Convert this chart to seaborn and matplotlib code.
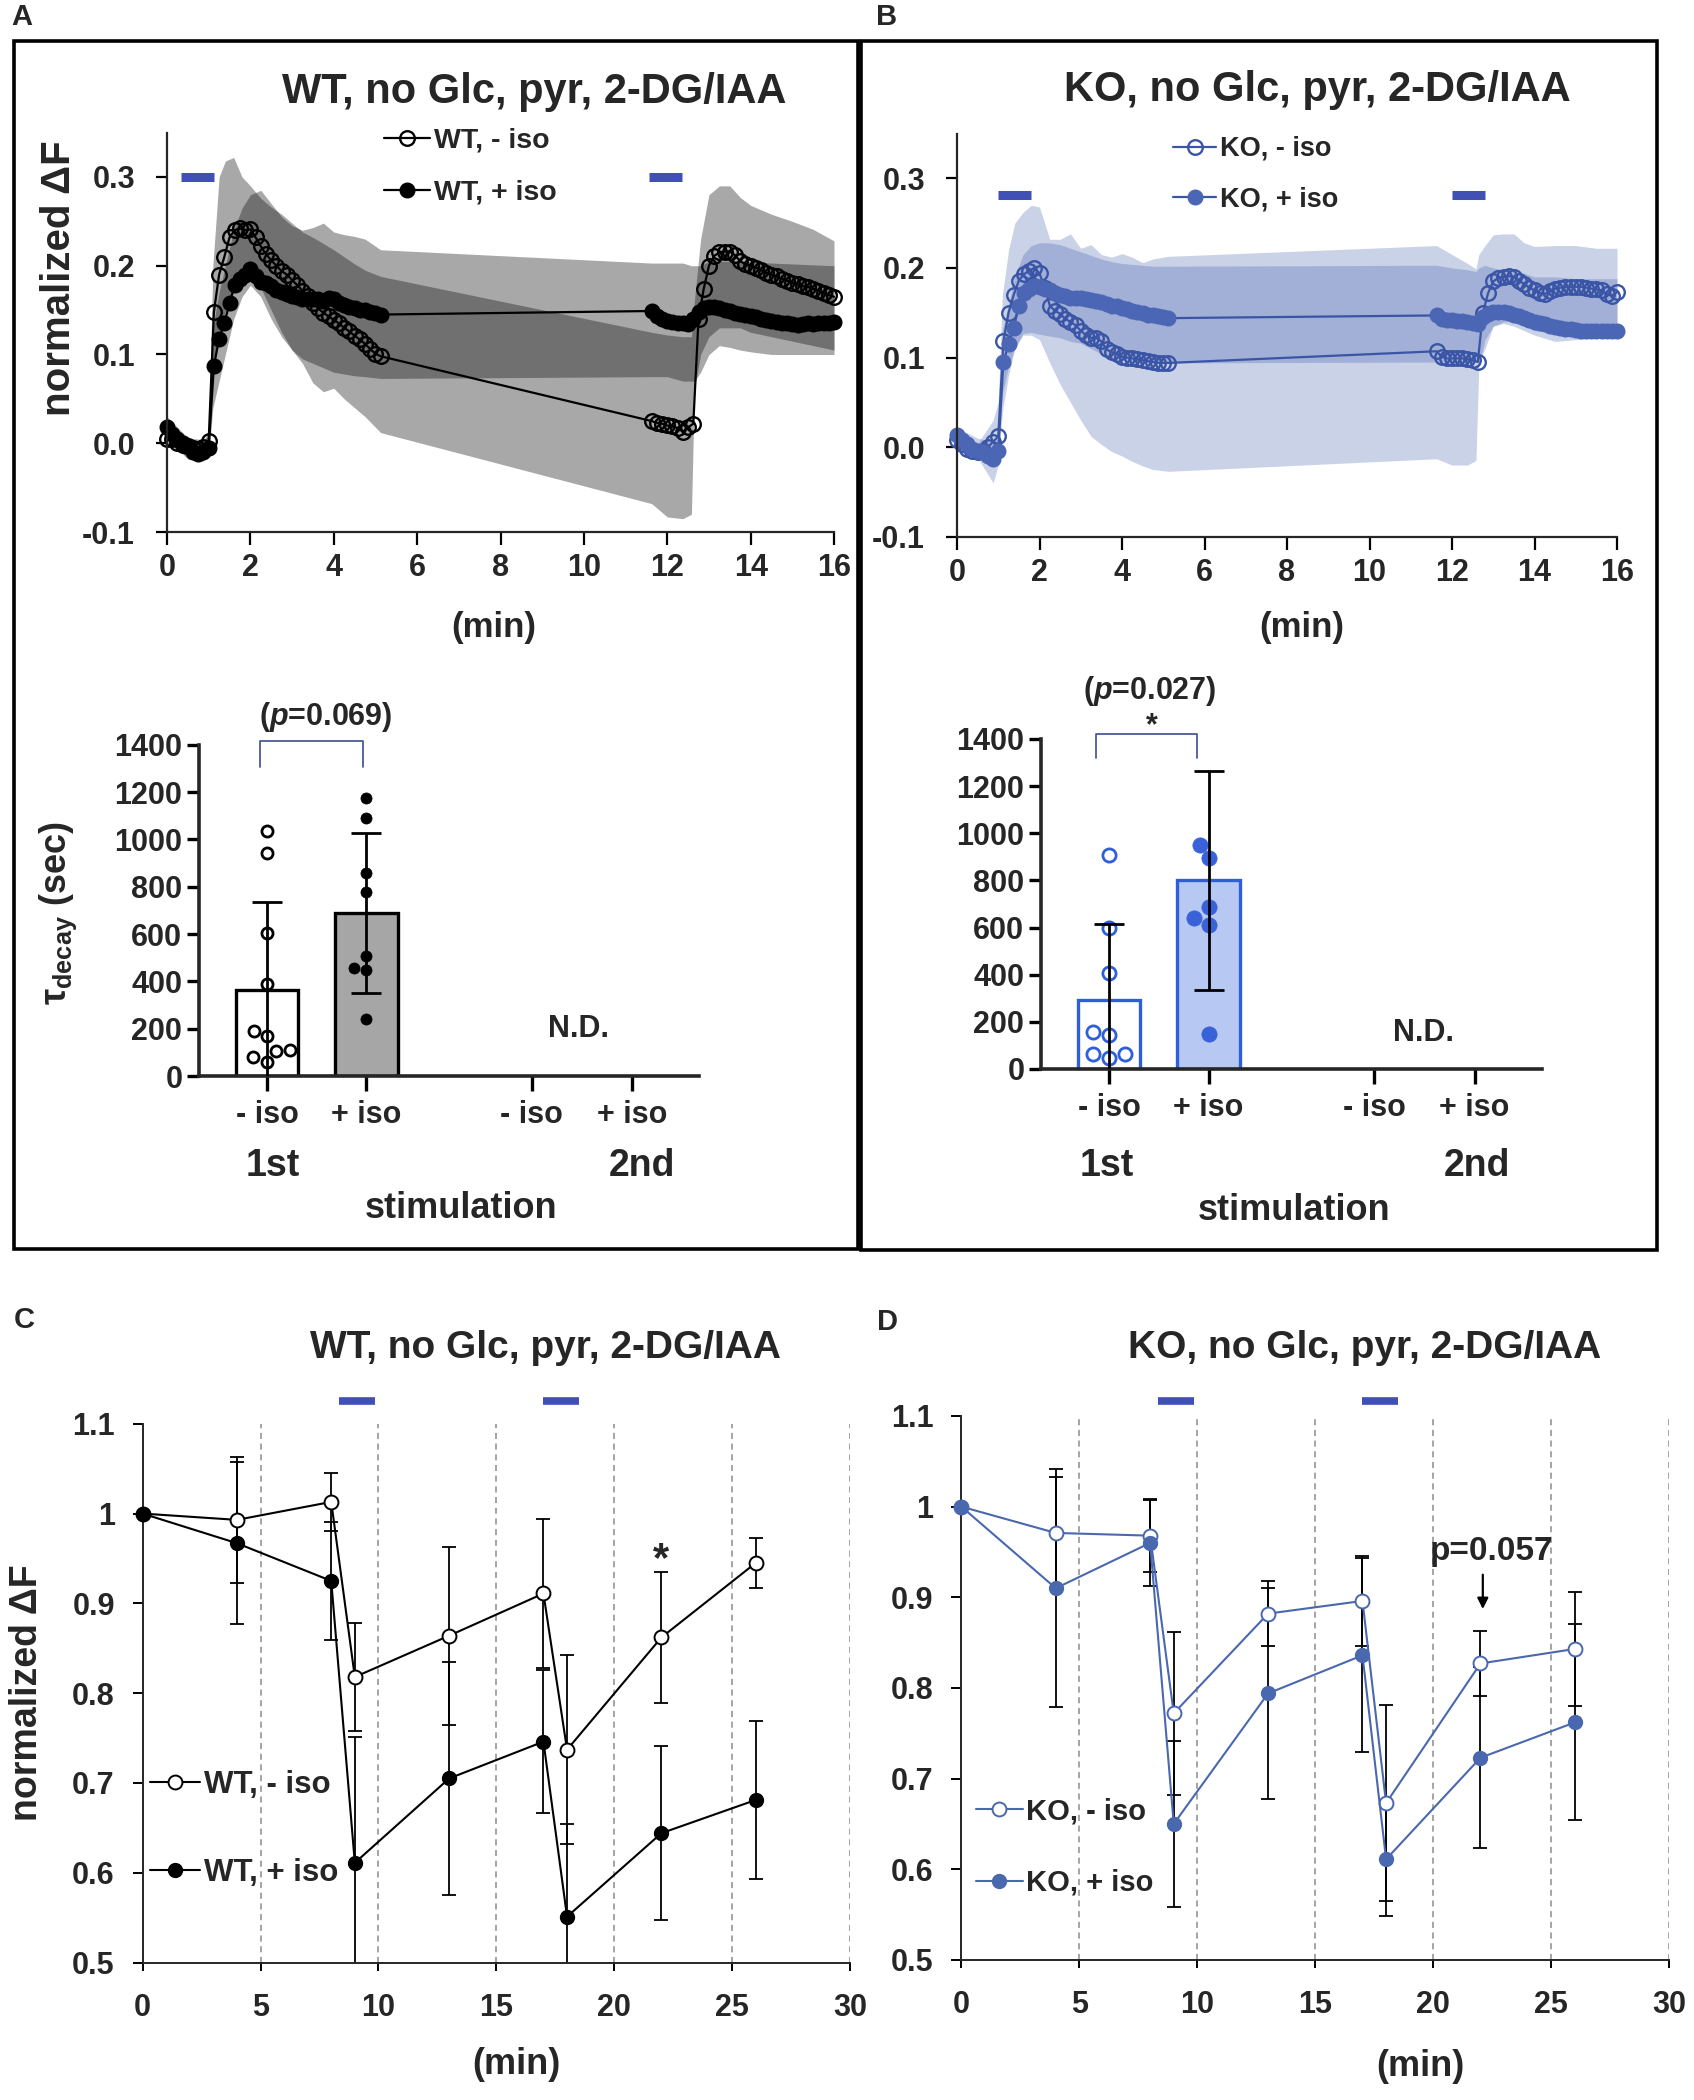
import matplotlib.pyplot as plt
import seaborn as sns
from matplotlib.patches import Rectangle

sns.set_theme(style="ticks")
SANS = ["Liberation Sans", "DejaVu Sans"]
plt.rcParams["font.family"] = SANS
plt.rcParams["font.weight"] = "bold"
plt.rcParams["mathtext.fontset"] = "custom"
plt.rcParams["mathtext.rm"] = "Liberation Sans:bold"
plt.rcParams["mathtext.bf"] = "Liberation Sans:bold"
plt.rcParams["mathtext.it"] = "Liberation Sans:italic:bold"

# ---------------- data: panels A / B (time course, min) ----------------
t_seg1 = [0.0, 0.125, 0.25, 0.375, 0.5, 0.625, 0.75, 0.875, 1.0, 1.125, 1.25, 1.375, 1.5, 1.625,
          1.75, 1.875, 2.0, 2.125, 2.25, 2.375, 2.5, 2.625, 2.75, 2.875, 3.0, 3.125, 3.25, 3.375,
          3.5, 3.625, 3.75, 3.875, 4.0, 4.125, 4.25, 4.375, 4.5, 4.625, 4.75, 4.875, 5.0, 5.125]
t_seg2 = [11.625, 11.75, 11.875, 12.0, 12.125, 12.25, 12.375, 12.5, 12.625, 12.75, 12.875, 13.0,
          13.125, 13.25, 13.375, 13.5, 13.625, 13.75, 13.875, 14.0, 14.125, 14.25, 14.375, 14.5,
          14.625, 14.75, 14.875, 15.0, 15.125, 15.25, 15.375, 15.5, 15.625, 15.75, 15.875, 16.0]

wt_noiso = [0.005, 0.005, 0.0, -0.002, -0.003, -0.005, -0.006, -0.004, 0.003, 0.148, 0.19, 0.21,
            0.232, 0.24, 0.242, 0.24, 0.241, 0.232, 0.222, 0.213, 0.206, 0.2, 0.194, 0.19, 0.184,
            0.178, 0.172, 0.166, 0.158, 0.152, 0.147, 0.143, 0.139, 0.135, 0.13, 0.126, 0.121,
            0.117, 0.112, 0.106, 0.101, 0.098,
            0.025, 0.023, 0.022, 0.02, 0.019, 0.017, 0.013, 0.018, 0.022, 0.14, 0.174, 0.2, 0.211,
            0.215, 0.216, 0.216, 0.212, 0.205, 0.202, 0.2, 0.198, 0.195, 0.192, 0.19, 0.188, 0.185,
            0.183, 0.181, 0.179, 0.177, 0.176, 0.174, 0.172, 0.169, 0.167, 0.165]
wt_iso = [0.018, 0.01, 0.005, 0.0, -0.004, -0.01, -0.012, -0.01, -0.005, 0.087, 0.118, 0.135,
          0.158, 0.178, 0.185, 0.19, 0.196, 0.188, 0.182, 0.18, 0.177, 0.173, 0.17, 0.168, 0.166,
          0.165, 0.163, 0.162, 0.163, 0.162, 0.16, 0.164, 0.162, 0.158, 0.156, 0.153, 0.152, 0.15,
          0.15, 0.148, 0.147, 0.145,
          0.149, 0.143, 0.14, 0.138, 0.137, 0.136, 0.135, 0.134, 0.14, 0.148, 0.152, 0.154, 0.153,
          0.152, 0.15, 0.149, 0.147, 0.146, 0.144, 0.143, 0.142, 0.14, 0.139, 0.138, 0.137, 0.136,
          0.135, 0.134, 0.133, 0.134, 0.135, 0.134, 0.135, 0.136, 0.136, 0.137]
ko_noiso = [0.008, 0.004, -0.002, -0.004, -0.005, -0.004, 0.0, 0.006, 0.012, 0.118, 0.15, 0.17,
            0.186, 0.193, 0.197, 0.2, 0.194, 0.178, 0.158, 0.152, 0.149, 0.143, 0.14, 0.136, 0.13,
            0.125, 0.122, 0.122, 0.118, 0.109, 0.106, 0.104, 0.101, 0.1, 0.099, 0.098, 0.097,
            0.096, 0.095, 0.094, 0.094, 0.094,
            0.107, 0.101, 0.099, 0.099, 0.099, 0.099, 0.098, 0.097, 0.095, 0.15, 0.172, 0.185,
            0.189, 0.19, 0.191, 0.19, 0.186, 0.182, 0.178, 0.175, 0.172, 0.171, 0.174, 0.177,
            0.178, 0.179, 0.179, 0.179, 0.179, 0.178, 0.177, 0.176, 0.175, 0.171, 0.169, 0.173]
ko_iso = [0.014, 0.008, 0.003, -0.002, -0.004, -0.006, -0.01, -0.013, -0.004, 0.095, 0.115, 0.133,
          0.158, 0.172, 0.177, 0.18, 0.179, 0.177, 0.175, 0.172, 0.17, 0.169, 0.167, 0.166, 0.166,
          0.165, 0.164, 0.163, 0.162, 0.16, 0.158, 0.157, 0.155, 0.154, 0.152, 0.151, 0.15, 0.148,
          0.147, 0.146, 0.145, 0.144,
          0.147, 0.143, 0.142, 0.142, 0.141, 0.141, 0.14, 0.139, 0.138, 0.145, 0.149, 0.151, 0.151,
          0.151, 0.15, 0.148, 0.146, 0.144, 0.142, 0.14, 0.139, 0.137, 0.135, 0.134, 0.133, 0.132,
          0.132, 0.131, 0.13, 0.13, 0.13, 0.13, 0.13, 0.13, 0.13, 0.13]

# SD bands (coarser time grid)
t_band = [0.0, 0.5, 0.875, 1.0, 1.1, 1.25, 1.4, 1.6, 1.8, 2.0, 2.25, 2.5, 2.75, 3.0, 3.25, 3.5,
          3.75, 4.0, 4.25, 4.5, 4.75, 5.125,
          11.625, 12.0, 12.375, 12.58, 12.65, 12.8, 13.0, 13.25, 13.5, 13.75, 14.0, 14.5, 15.0,
          15.5, 16.0]
wt_noiso_lo = [-0.003, -0.01, -0.012, -0.008, 0.09, 0.12, 0.15, 0.17, 0.185, 0.19, 0.175, 0.15,
               0.125, 0.105, 0.09, 0.068, 0.058, 0.062, 0.05, 0.04, 0.03, 0.012,
               -0.068, -0.083, -0.085, -0.08, 0.06, 0.1, 0.12, 0.13, 0.13, 0.13, 0.125, 0.12,
               0.115, 0.11, 0.105]
wt_noiso_hi = [0.014, 0.004, 0.002, 0.014, 0.2, 0.3, 0.318, 0.322, 0.3, 0.29, 0.276, 0.266, 0.258,
               0.248, 0.238, 0.232, 0.225, 0.218, 0.21, 0.202, 0.195, 0.188,
               0.125, 0.122, 0.12, 0.12, 0.16, 0.23, 0.28, 0.29, 0.29, 0.277, 0.268, 0.258, 0.25,
               0.241, 0.228]
wt_iso_lo = [0.005, -0.018, -0.02, -0.015, 0.04, 0.07, 0.1, 0.14, 0.165, 0.178, 0.165, 0.14, 0.12,
             0.105, 0.095, 0.09, 0.085, 0.08, 0.078, 0.076, 0.075, 0.073,
             0.075, 0.075, 0.07, 0.07, 0.07, 0.08, 0.1, 0.11, 0.108, 0.105, 0.103, 0.1, 0.1, 0.1,
             0.1]
wt_iso_hi = [0.03, 0.006, 0.004, 0.008, 0.13, 0.17, 0.2, 0.24, 0.265, 0.28, 0.285, 0.27, 0.255,
             0.245, 0.24, 0.243, 0.248, 0.238, 0.235, 0.233, 0.23, 0.218,
             0.203, 0.203, 0.203, 0.2, 0.2, 0.2, 0.205, 0.205, 0.205, 0.205, 0.204, 0.203, 0.202,
             0.201, 0.2]
ko_noiso_lo = [-0.005, -0.012, -0.04, -0.02, 0.04, 0.08, 0.11, 0.125, 0.125, 0.12, 0.094, 0.07,
               0.05, 0.03, 0.012, 0.003, -0.005, -0.01, -0.016, -0.021, -0.025, -0.027,
               -0.013, -0.02, -0.02, -0.015, 0.09, 0.12, 0.135, 0.14, 0.14, 0.135, 0.13, 0.128,
               0.13, 0.128, 0.125]
ko_noiso_hi = [0.012, 0.004, 0.03, 0.05, 0.17, 0.22, 0.25, 0.262, 0.27, 0.268, 0.232, 0.232,
               0.238, 0.222, 0.226, 0.215, 0.212, 0.216, 0.212, 0.206, 0.21, 0.213,
               0.225, 0.215, 0.205, 0.199, 0.215, 0.225, 0.237, 0.238, 0.238, 0.228, 0.224, 0.225,
               0.225, 0.222, 0.222]
ko_iso_lo = [0.005, -0.012, -0.02, -0.012, 0.06, 0.09, 0.11, 0.127, 0.128, 0.126, 0.124, 0.122,
             0.118, 0.116, 0.11, 0.104, 0.099, 0.097, 0.096, 0.095, 0.094, 0.094,
             0.095, 0.095, 0.095, 0.095, 0.095, 0.11, 0.135, 0.138, 0.135, 0.13, 0.125, 0.118,
             0.12, 0.122, 0.123]
ko_iso_hi = [0.022, 0.01, 0.006, 0.01, 0.13, 0.16, 0.19, 0.215, 0.225, 0.228, 0.228, 0.226, 0.222,
             0.218, 0.214, 0.21, 0.207, 0.205, 0.204, 0.203, 0.202, 0.202,
             0.203, 0.2, 0.198, 0.196, 0.2, 0.203, 0.2, 0.198, 0.196, 0.194, 0.19, 0.19, 0.188,
             0.188, 0.188]

wt_stim_start, wt_stim_end, wt_stim_y = [0.34, 11.56], [1.13, 12.35], 0.3
ko_stim_start, ko_stim_end, ko_stim_y = [1.0, 12.0], [1.79, 12.79], 0.282
trace_yticks = [-0.1, 0.0, 0.1, 0.2, 0.3]
trace_yticklabels = ["-0.1", "0.0", "0.1", "0.2", "0.3"]
trace_xticks = [0, 2, 4, 6, 8, 10, 12, 14, 16]

# ---------------- data: tau decay bars ----------------
bar_pos = [0, 1]
bar_ticks = [0, 1, 2.66, 3.67]
bar_ticklabels = ["- iso", "+ iso", "- iso", "+ iso"]
wt_tau_mean = [364, 690]
wt_tau_sd = [371, 338]
wt_tau_noiso = [1036, 941, 606, 389, 167, 192, 110, 80, 106, 59]
wt_tau_iso = [1175, 1091, 857, 778, 506, 456, 447, 242]
ko_tau_mean = [293, 800]
ko_tau_sd = [322, 463]
ko_tau_noiso = [909, 598, 407, 159, 146, 45, 64, 62]
ko_tau_iso = [951, 894, 640, 686, 609, 148]
tau_yticks = [0, 200, 400, 600, 800, 1000, 1200, 1400]

# ---------------- data: panels C / D ----------------
t_cd = [0, 4, 8, 9, 13, 17, 18, 22, 26]
c_noiso = [1.0, 0.993, 1.013, 0.818, 0.864, 0.911, 0.737, 0.862, 0.945]
c_noiso_sd = [0, 0.07, 0.032, 0.06, 0.099, 0.083, 0.105, 0.073, 0.028]
c_iso = [1.0, 0.967, 0.925, 0.611, 0.705, 0.746, 0.551, 0.644, 0.681]
c_iso_sd = [0, 0.09, 0.066, 0.14, 0.13, 0.08, 0.103, 0.097, 0.088]
d_noiso = [1.0, 0.971, 0.968, 0.772, 0.882, 0.896, 0.673, 0.827, 0.843]
d_noiso_sd = [0, 0.062, 0.04, 0.09, 0.036, 0.05, 0.108, 0.036, 0.063]
d_iso = [1.0, 0.91, 0.96, 0.65, 0.794, 0.836, 0.611, 0.723, 0.762]
d_iso_sd = [0, 0.131, 0.047, 0.092, 0.116, 0.107, 0.063, 0.1, 0.108]
cd_stim_start, cd_stim_end = [8.35, 17.0], [9.85, 18.5]
cd_xticks = [0, 5, 10, 15, 20, 25, 30]
cd_yticks = [0.5, 0.6, 0.7, 0.8, 0.9, 1.0, 1.1]
cd_yticklabels = ["0.5", "0.6", "0.7", "0.8", "0.9", "1", "1.1"]

STIM = "#4050b5"
KO_LINE = "#3a55a6"
KO_FILL = "#4a66b4"
KO_BAND = "#3352a7"
KO_BAR = "#2f5fd8"

W, H = 1694, 2100
fig = plt.figure(figsize=(W / 100, H / 100), dpi=100)


def add_ax(x0, y0, x1, y1):
    ax = fig.add_axes([x0 / W, 1 - y1 / H, (x1 - x0) / W, (y1 - y0) / H])
    ax.set_facecolor("none")
    ax.spines["top"].set_visible(False)
    ax.spines["right"].set_visible(False)
    return ax


def put(x, y, s, size, **kw):
    kw.setdefault("ha", "center")
    kw.setdefault("va", "center")
    fig.text(x / W, 1 - y / H, s, fontsize=size, family=SANS, fontweight="bold", **kw)


def set_ticks(ax, xt, xl, yt, yl, size):
    ax.set_xticks(xt, xl, fontsize=size, fontweight="bold", family=SANS)
    ax.set_yticks(yt, yl, fontsize=size, fontweight="bold", family=SANS)


def trace_panel(ax, noiso, iso, bands, band_col, band_alpha, line_col, open_col, fill_col,
                labels, stim, legend_xy, legend_size):
    t_trace = t_seg1 + t_seg2
    ax.fill_between(t_band, bands[0], bands[1], color=band_col, alpha=band_alpha, lw=0)
    ax.fill_between(t_band, bands[2], bands[3], color=band_col, alpha=band_alpha, lw=0)
    sns.lineplot(x=t_trace, y=noiso, sort=False, estimator=None, ax=ax, color=line_col, lw=1.6,
                 marker="o", markersize=10.5, markerfacecolor="none", markeredgecolor=open_col,
                 markeredgewidth=1.7, label=labels[0], clip_on=False)
    sns.lineplot(x=t_trace, y=iso, sort=False, estimator=None, ax=ax, color=line_col, lw=1.6,
                 marker="o", markersize=10.5, markerfacecolor=fill_col, markeredgecolor=fill_col,
                 markeredgewidth=1.0, label=labels[1], clip_on=False)
    ax.hlines([stim[2]] * len(stim[0]), stim[0], stim[1], color=STIM, lw=6.5,
              capstyle="butt", clip_on=False)
    ax.set_xlim(0, 16)
    ax.set_ylim(-0.1, 0.35)
    set_ticks(ax, trace_xticks, [str(v) for v in trace_xticks], trace_yticks,
              trace_yticklabels, 22)
    ax.spines["left"].set_linewidth(1.6)
    ax.spines["bottom"].set_linewidth(1.6)
    ax.tick_params(axis="y", length=8, width=1.6, pad=15, color="black")
    ax.tick_params(axis="x", length=9, width=1.6, pad=6, color="black")
    ax.set_xlabel("")
    ax.set_ylabel("")
    ax.legend(loc="upper left", bbox_to_anchor=(legend_xy[0] / W, 1 - legend_xy[1] / H),
              bbox_transform=fig.transFigure, frameon=False, borderpad=0, borderaxespad=0,
              handlelength=1.6, handletextpad=0.15, labelspacing=0.9,
              prop=dict(family=SANS, weight="bold", size=legend_size))


def bar_panel(ax, means, sds, dots_no, dots_iso, fills, edge, no_edge, iso_fill, sizes):
    sns.barplot(x=bar_pos, y=means, native_scale=True, orient="x", width=0.63, errorbar=None,
                color="white", ax=ax, zorder=1)
    for patch, fc in zip(ax.patches, fills):
        patch.set_facecolor(fc)
        patch.set_edgecolor(edge)
        patch.set_linewidth(2.4)
    sns.swarmplot(x=[bar_pos[0]] * len(dots_no), y=dots_no, native_scale=True, orient="x",
                  size=sizes[0], color="white", edgecolor=no_edge, linewidth=2.0, ax=ax, zorder=3)
    sns.swarmplot(x=[bar_pos[1]] * len(dots_iso), y=dots_iso, native_scale=True, orient="x",
                  size=sizes[1], color=iso_fill, edgecolor=iso_fill, linewidth=0.5, ax=ax,
                  zorder=3)
    ax.errorbar(bar_pos, means, yerr=sds, fmt="none", ecolor="black", elinewidth=2,
                capsize=11, capthick=2, zorder=4)
    ax.set_xlim(-0.683, 4.342)
    ax.set_ylim(0, 1400)
    set_ticks(ax, bar_ticks, bar_ticklabels, tau_yticks, [str(v) for v in tau_yticks], 22)
    ax.spines["left"].set_linewidth(2.6)
    ax.spines["bottom"].set_linewidth(2.6)
    ax.tick_params(axis="y", length=9, width=2.4, pad=3, color="black")
    ax.tick_params(axis="x", length=11, width=2.4, pad=6, color="black")
    ax.set_xlabel("")
    ax.set_ylabel("")


def time_panel(ax, noiso, noiso_sd, iso, iso_sd, line_col, edge_col, fill_col, labels,
               stim_y, legend_xy, legend_space, legend_size):
    ax.grid(axis="x", color="#8c8c8c", ls=(0, (4, 3)), lw=1.1)
    ax.errorbar(t_cd, noiso, yerr=noiso_sd, fmt="none", ecolor="black", elinewidth=1.3,
                capsize=5, capthick=1.3, zorder=2)
    ax.errorbar(t_cd, iso, yerr=iso_sd, fmt="none", ecolor="black", elinewidth=1.3,
                capsize=5, capthick=1.3, zorder=2)
    sns.lineplot(x=t_cd, y=noiso, sort=False, estimator=None, ax=ax, color=line_col, lw=1.5,
                 marker="o", markersize=10, markerfacecolor="white", markeredgecolor=edge_col,
                 markeredgewidth=1.4, label=labels[0], zorder=3, clip_on=False)
    sns.lineplot(x=t_cd, y=iso, sort=False, estimator=None, ax=ax, color=line_col, lw=1.5,
                 marker="o", markersize=10, markerfacecolor=fill_col, markeredgecolor=fill_col,
                 markeredgewidth=1.0, label=labels[1], zorder=3, clip_on=False)
    ax.hlines([stim_y] * len(cd_stim_start), cd_stim_start, cd_stim_end, color=STIM, lw=5.5,
              capstyle="butt", clip_on=False)
    ax.set_xlim(0, 30)
    ax.set_ylim(0.5, 1.1)
    set_ticks(ax, cd_xticks, [str(v) for v in cd_xticks], cd_yticks, cd_yticklabels, 22)
    ax.spines["left"].set_linewidth(1.4)
    ax.spines["bottom"].set_linewidth(1.4)
    ax.tick_params(axis="y", length=7, width=1.4, pad=13, color="black")
    ax.tick_params(axis="x", length=6, width=1.4, pad=16, color="black")
    ax.set_xlabel("")
    ax.set_ylabel("")
    ax.legend(loc="upper left", bbox_to_anchor=(legend_xy[0] / W, 1 - legend_xy[1] / H),
              bbox_transform=fig.transFigure, frameon=False, borderpad=0, borderaxespad=0,
              handlelength=1.6, handletextpad=0.12, labelspacing=legend_space,
              prop=dict(family=SANS, weight="bold", size=legend_size))


# ---------------- panel boxes & letters ----------------
for x0, y0, x1, y1 in [(14, 41, 858, 1249), (861, 41, 1657, 1250)]:
    fig.add_artist(Rectangle((x0 / W, 1 - y1 / H), (x1 - x0) / W, (y1 - y0) / H,
                             transform=fig.transFigure, fill=False, lw=2.6, ec="black"))
put(22, 17, "A", 21)
put(887, 17, "B", 21)
put(24, 1320, "C", 21)
put(887, 1322, "D", 21)

# ---------------- A / B traces ----------------
axA = add_ax(167, 132.6, 834, 532)
trace_panel(axA, wt_noiso, wt_iso, [wt_noiso_lo, wt_noiso_hi, wt_iso_lo, wt_iso_hi],
            "#0f0f0f", 0.36, "black", "black", "black", ["WT, - iso", "WT, + iso"],
            [wt_stim_start, wt_stim_end, wt_stim_y], (384, 128), 20.5)
put(534, 92, "WT, no Glc, pyr, 2-DG/IAA", 30)
put(59, 278, "normalized \u0394F", 29, rotation=90)
put(494, 627, "(min)", 25)

axB = add_ax(957, 133.6, 1617, 536.7)
trace_panel(axB, ko_noiso, ko_iso, [ko_noiso_lo, ko_noiso_hi, ko_iso_lo, ko_iso_hi],
            KO_BAND, 0.26, KO_LINE, KO_LINE, KO_FILL, ["KO, - iso", "KO, + iso"],
            [ko_stim_start, ko_stim_end, ko_stim_y], (1173, 136), 19.5)
put(1317, 90, "KO, no Glc, pyr, 2-DG/IAA", 30)
put(1302, 627, "(min)", 25)

# ---------------- A / B tau bars ----------------
axAb = add_ax(199, 744.8, 699, 1076)
bar_panel(axAb, wt_tau_mean, wt_tau_sd, wt_tau_noiso, wt_tau_iso, ["white", "#a6a6a6"],
          "black", "black", "black", [8, 8])
axAb.plot([-0.065, -0.065, 0.965, 0.965], [1306, 1415, 1415, 1306], color="#4a5a9a", lw=1.3,
          clip_on=False)
put(326, 717, r"($\mathit{p}$=0.069)", 22)
put(579, 1029, "N.D.", 22)
put(273, 1166, "1st", 27)
put(642, 1166, "2nd", 27)
put(461, 1209, "stimulation", 26)
put(58, 913, r"τ$_{\mathbf{decay}}$ (sec)", 26, rotation=90)

axBb = add_ax(1041, 738.9, 1541.6, 1069)
bar_panel(axBb, ko_tau_mean, ko_tau_sd, ko_tau_noiso, ko_tau_iso, ["white", "#b7c8f3"],
          KO_BAR, KO_BAR, "#3a62d8", [9.5, 11])
axBb.plot([-0.135, -0.135, 0.88, 0.88], [1320, 1422, 1422, 1320], color="#4a5a9a", lw=1.3,
          clip_on=False)
put(1150, 691, r"($\mathit{p}$=0.027)", 22)
put(1152, 726, "*", 22)
put(1423, 1033, "N.D.", 22)
put(1107, 1166, "1st", 27)
put(1477, 1166, "2nd", 27)
put(1294, 1211, "stimulation", 26)

# ---------------- C / D ----------------
axC = add_ax(142.6, 1423.8, 850, 1962.5)
time_panel(axC, c_noiso, c_noiso_sd, c_iso, c_iso_sd, "black", "black", "black",
           ["WT, - iso", "WT, + iso"], 1.125, (150, 1770), 1.85, 22.5)
axC.text(22, 0.948, "*", ha="center", va="center", fontsize=30, fontweight="bold", family=SANS)
put(546, 1348, "WT, no Glc, pyr, 2-DG/IAA", 28)
put(27, 1693, "normalized \u0394F", 27, rotation=90)
put(516, 2064, "(min)", 26)

axD = add_ax(961.4, 1416, 1669.2, 1959.9)
time_panel(axD, d_noiso, d_noiso_sd, d_iso, d_iso_sd, "#4a68ad", "#4a68ad", "#4a68ad",
           ["KO, - iso", "KO, + iso"], 1.116, (976, 1797), 1.5, 21)
axD.text(22.48, 0.95, "p=0.057", ha="center", va="center", fontsize=24, fontweight="bold",
         family=SANS)
axD.annotate("", xy=(22.1, 0.884), xytext=(22.1, 0.928),
             arrowprops=dict(arrowstyle="-|>", color="black", lw=1.6, mutation_scale=16))
put(1365, 1348, "KO, no Glc, pyr, 2-DG/IAA", 28)
put(1420, 2067, "(min)", 26)

fig.savefig("out.png", dpi=100)
